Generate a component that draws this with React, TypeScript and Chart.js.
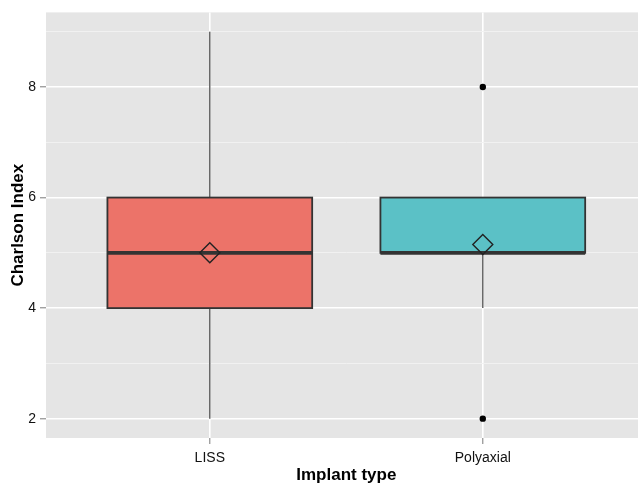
import React, { useEffect, useRef } from "react";
import { Chart, registerables } from "chart.js";

Chart.register(...registerables);

// ---- data ----
const categories = ["LISS", "Polyaxial"];
const whiskerLow = [2, 4];
const q1 = [4, 5];
const median = [5, 5];
const q3 = [6, 6];
const whiskerHigh = [9, 6];
const means = [5.0, 5.15];
const outliers: number[][] = [[], [8, 2]];
const yMajorTicks = [2, 4, 6, 8];
const yMinorTicks = [3, 5, 7, 9];
const fillColors = ["#EC7369", "#5BC1C6"];

const BOX_WIDTH = 0.75;
const FONT = "'Liberation Sans', Arial, Helvetica, sans-serif";
const LINE = "#333333";

const panelPlugin = {
  id: "ggPanel",
  beforeDraw(chart: any) {
    const { ctx, chartArea } = chart;
    ctx.save();
    ctx.fillStyle = "#E5E5E5";
    ctx.fillRect(chartArea.left, chartArea.top, chartArea.right - chartArea.left, chartArea.bottom - chartArea.top);
    ctx.restore();
  },
  beforeDatasetsDraw(chart: any) {
    const { ctx } = chart;
    const x = chart.scales.x;
    const y = chart.scales.y;
    ctx.save();
    categories.forEach((_, i) => {
      const pos = i + 1;
      const cx = x.getPixelForValue(pos);
      const l = x.getPixelForValue(pos - BOX_WIDTH / 2);
      const r = x.getPixelForValue(pos + BOX_WIDTH / 2);
      const yLo = y.getPixelForValue(whiskerLow[i]);
      const yQ1 = y.getPixelForValue(q1[i]);
      const yMed = y.getPixelForValue(median[i]);
      const yQ3 = y.getPixelForValue(q3[i]);
      const yHi = y.getPixelForValue(whiskerHigh[i]);
      // whiskers
      ctx.strokeStyle = "#444444";
      ctx.lineWidth = 1.2;
      ctx.beginPath();
      ctx.moveTo(cx, yLo);
      ctx.lineTo(cx, yQ1);
      ctx.moveTo(cx, yQ3);
      ctx.lineTo(cx, yHi);
      ctx.stroke();
      // box
      ctx.fillStyle = fillColors[i];
      ctx.fillRect(l, yQ3, r - l, yQ1 - yQ3);
      ctx.lineWidth = 1.8;
      ctx.strokeStyle = LINE;
      ctx.strokeRect(l, yQ3, r - l, yQ1 - yQ3);
      // median
      ctx.lineWidth = 3.6;
      ctx.beginPath();
      ctx.moveTo(l, yMed);
      ctx.lineTo(r, yMed);
      ctx.stroke();
    });
    ctx.restore();
  },
};

export default function App() {
  const ref = useRef<HTMLCanvasElement>(null);

  useEffect(() => {
    if (!ref.current) return;
    const meanPoints = means.map((m, i) => ({ x: i + 1, y: m }));
    const outlierPoints: { x: number; y: number }[] = [];
    outliers.forEach((arr, i) => arr.forEach((v) => outlierPoints.push({ x: i + 1, y: v })));

    const chart = new Chart(ref.current, {
      type: "scatter",
      data: {
        datasets: [
          {
            label: "mean",
            data: meanPoints,
            pointStyle: "rectRot",
            pointRadius: 10,
            pointBackgroundColor: "rgba(0,0,0,0)",
            pointBorderColor: "#222222",
            pointBorderWidth: 1.4,
          },
          {
            label: "outliers",
            data: outlierPoints,
            pointStyle: "circle",
            pointRadius: 3.2,
            pointBackgroundColor: "#000000",
            pointBorderColor: "#000000",
            pointBorderWidth: 0,
          },
        ],
      },
      options: {
        animation: false,
        responsive: false,
        devicePixelRatio: 1,
        layout: { padding: { top: 12, right: 0, bottom: 0, left: 0 } },
        plugins: { legend: { display: false }, tooltip: { enabled: false } },
        scales: {
          x: {
            type: "linear",
            min: 0.4,
            max: 2.6,
            afterBuildTicks: (s: any) => {
              s.ticks = categories.map((_, i) => ({ value: i + 1 }));
            },
            afterFit: (s: any) => {
              s.height = 48;
            },
            ticks: {
              autoSkip: false,
              maxRotation: 0,
              padding: 6,
              color: "#111111",
              font: { family: FONT, size: 14 },
              callback: (v: any) => categories[Math.round(Number(v)) - 1] ?? "",
            },
            grid: {
              color: "#FFFFFF",
              lineWidth: 1.6,
              tickColor: "#7A7A7A",
              tickLength: 6,
              tickWidth: 1,
            },
            border: { display: false },
            title: {
              display: true,
              text: "Implant type",
              color: "#000000",
              font: { family: FONT, size: 17, weight: "bold" },
              padding: { top: 0, bottom: 0 },
            },
          },
          y: {
            type: "linear",
            min: 1.65,
            max: 9.35,
            afterBuildTicks: (s: any) => {
              s.ticks = [...yMajorTicks, ...yMinorTicks].sort((a, b) => a - b).map((v) => ({ value: v }));
            },
            afterFit: (s: any) => {
              s.width = 46;
            },
            ticks: {
              autoSkip: false,
              padding: 4,
              color: "#111111",
              font: { family: FONT, size: 14 },
              callback: (v: any) => (yMajorTicks.includes(Number(v)) ? String(v) : ""),
            },
            grid: {
              color: (c: any) => (yMajorTicks.includes(c.tick?.value) ? "#FFFFFF" : "#F2F2F2"),
              lineWidth: (c: any) => (yMajorTicks.includes(c.tick?.value) ? 1.6 : 0.9),
              tickColor: (c: any) => (yMajorTicks.includes(c.tick?.value) ? "#7A7A7A" : "rgba(0,0,0,0)"),
              tickLength: 6,
              tickWidth: 1,
            },
            border: { display: false },
            title: {
              display: true,
              text: "Charlson Index",
              color: "#000000",
              font: { family: FONT, size: 17, weight: "bold" },
              padding: { top: 8, bottom: 0 },
            },
          },
        },
      },
      plugins: [panelPlugin],
    });
    return () => chart.destroy();
  }, []);

  return (
    <div
      style={{
        position: "fixed",
        left: 0,
        top: 0,
        width: 638,
        height: 486,
        overflow: "hidden",
        background: "#FFFFFF",
      }}
    >
      <canvas ref={ref} width={658} height={486} style={{ display: "block" }} />
    </div>
  );
}
